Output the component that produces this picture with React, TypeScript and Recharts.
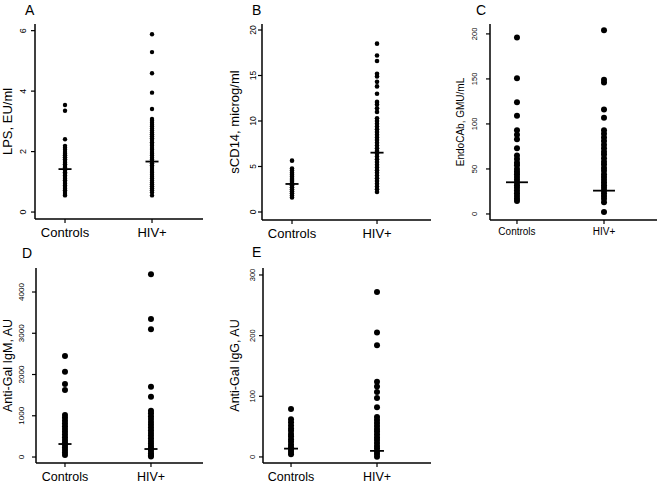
import React from 'react';
import { ScatterChart, Scatter, XAxis, YAxis, ReferenceLine } from 'recharts';

const groups = ['Controls', 'HIV+'];

// Panel A – LPS, EU/ml
const lpsControls = [3.54, 3.35, 2.41, 2.19, 2.13, 2.06, 1.99, 1.93, 1.88, 1.81, 1.75, 1.69, 1.63, 1.58, 1.52, 1.47, 1.42, 1.37, 1.32, 1.27, 1.21, 1.16, 1.10, 1.05, 0.99, 0.94, 0.88, 0.83, 0.77, 0.72, 0.66, 0.60, 0.55];
const lpsHiv = [5.88, 5.29, 4.59, 3.95, 3.41, 3.08, 3.02, 2.95, 2.89, 2.83, 2.76, 2.70, 2.63, 2.57, 2.51, 2.44, 2.38, 2.31, 2.25, 2.19, 2.12, 2.06, 1.99, 1.93, 1.87, 1.80, 1.74, 1.68, 1.61, 1.55, 1.49, 1.42, 1.36, 1.30, 1.23, 1.17, 1.11, 1.04, 0.98, 0.92, 0.85, 0.79, 0.72, 0.65, 0.55];
const lpsMedians = [1.42, 1.67];
const lpsTicks = [0, 2, 4, 6];

// Panel B – sCD14, microg/ml
const scdControls = [5.64, 4.78, 4.55, 4.31, 4.08, 3.86, 3.62, 3.40, 3.17, 2.95, 2.72, 2.50, 2.27, 2.05, 1.82, 1.60];
const scdHiv = [18.5, 17.2, 16.6, 15.2, 14.9, 14.3, 13.8, 13.0, 12.1, 11.8, 11.4, 11.0, 10.3, 10.0, 9.7, 9.4, 9.1, 8.8, 8.5, 8.2, 7.9, 7.6, 7.3, 7.0, 6.7, 6.4, 6.1, 5.8, 5.5, 5.2, 4.9, 4.6, 4.3, 4.0, 3.7, 3.4, 3.1, 2.8, 2.5, 2.2];
const scdMedians = [3.08, 6.52];
const scdTicks = [0, 5, 10, 15, 20];

// Panel C – EndoCAb, GMU/mL
const endoControls = [196, 150.7, 124, 109, 93, 88, 83, 73, 65, 61, 57, 54, 50, 47, 44, 41, 38, 35, 32, 29, 26, 23, 20, 17, 14.5];
const endoHiv = [204, 149, 146, 116, 107, 93, 89, 85, 81, 77, 73, 69, 66, 62, 58, 55, 51, 48, 44, 41, 38, 35, 32, 29, 26, 23, 20, 17, 13, 2.2];
const endoMedians = [35.2, 25.9];
const endoTicks = [0, 50, 100, 150, 200];

// Panel D – Anti-Gal IgM, AU
const igmControls = [2448, 2068, 1770, 1624, 1018, 950, 880, 810, 745, 680, 610, 545, 480, 415, 350, 290, 230, 170, 110, 48];
const igmHiv = [4428, 3345, 3095, 1705, 1463, 1123, 1060, 990, 920, 850, 785, 715, 650, 585, 520, 455, 390, 330, 270, 210, 150, 90, 40, 10];
const igmMedians = [315, 194];
const igmTicks = [0, 1000, 2000, 3000, 4000];

// Panel E – Anti-Gal IgG, AU
const iggControls = [79, 62, 57, 52, 47, 43, 38, 34, 29, 25, 20, 16, 12, 8, 4.4];
const iggHiv = [272, 205, 184, 124, 116, 107, 97, 82, 66, 61, 56, 51, 46, 42, 37, 32, 28, 23, 18, 14, 9, 5, 0.5];
const iggMedians = [13.7, 10];
const iggTicks = [0, 100, 200, 300];

const FONT = '"Liberation Sans", Arial, Helvetica, sans-serif';

type PanelCfg = {
  letter: string;
  ylabel: string;
  controls: number[];
  hiv: number[];
  medians: number[];
  ticks: number[];
  yDomain: [number, number];
  xDomain: [number, number];
  box: { x0: number; x1: number; y0: number; y1: number };
  r: number;
  medHalf: number;
  fs: number;
  tickFs: number;
  tickOff: number;
  labOff: number;
  xLabOff: number;
  letterPos: [number, number];
};

const panels: PanelCfg[] = [
  {
    letter: 'A', ylabel: 'LPS, EU/ml', controls: lpsControls, hiv: lpsHiv, medians: lpsMedians, ticks: lpsTicks,
    yDomain: [-0.23, 6.22], xDomain: [0.655, 2.586], box: { x0: 35, x1: 203, y0: 24, y1: 219 },
    r: 2.2, medHalf: 0.075, fs: 13, tickFs: 9, tickOff: 12, labOff: 27.5, xLabOff: 17.5, letterPos: [25, 15],
  },
  {
    letter: 'B', ylabel: 'sCD14, microg/ml', controls: scdControls, hiv: scdHiv, medians: scdMedians, ticks: scdTicks,
    yDomain: [-0.88, 20.66], xDomain: [0.647, 2.635], box: { x0: 262, x1: 431, y0: 24, y1: 220 },
    r: 2.3, medHalf: 0.077, fs: 13, tickFs: 8.5, tickOff: 9, labOff: 27, xLabOff: 17.5, letterPos: [252, 15],
  },
  {
    letter: 'C', ylabel: 'EndoCAb, GMU/mL', controls: endoControls, hiv: endoHiv, medians: endoMedians, ticks: endoTicks,
    yDomain: [-6.7, 211], xDomain: [0.69, 2.609], box: { x0: 490, x1: 657, y0: 24, y1: 220 },
    r: 3, medHalf: 0.126, fs: 10, tickFs: 7.5, tickOff: 16, labOff: 29, xLabOff: 15, letterPos: [476, 15],
  },
  {
    letter: 'D', ylabel: 'Anti-Gal IgM, AU', controls: igmControls, hiv: igmHiv, medians: igmMedians, ticks: igmTicks,
    yDomain: [-145, 4582], xDomain: [0.663, 2.605], box: { x0: 36, x1: 203, y0: 268, y1: 463 },
    r: 3, medHalf: 0.076, fs: 12.5, tickFs: 8, tickOff: 15, labOff: 28, xLabOff: 18, letterPos: [22, 258],
  },
  {
    letter: 'E', ylabel: 'Anti-Gal IgG, AU', controls: iggControls, hiv: iggHiv, medians: iggMedians, ticks: iggTicks,
    yDomain: [-10, 311.5], xDomain: [0.674, 2.628], box: { x0: 263, x1: 431, y0: 268, y1: 463 },
    r: 3, medHalf: 0.081, fs: 12.5, tickFs: 7.5, tickOff: 11, labOff: 28, xLabOff: 18, letterPos: [252, 257],
  },
];

const YW = 35;
const MT = 24;
const MR = 4;
const XH = 21;

function Panel({ p }: { p: PanelCfg }) {
  const { x0, x1, y0, y1 } = p.box;
  const W = x1 - x0 + YW + MR;
  const H = y1 - y0 + MT + XH;
  const left = x0 - YW;
  const top = y0 - MT;
  const d1 = p.controls.map((v) => ({ x: 1, y: v }));
  const d2 = p.hiv.map((v) => ({ x: 2, y: v }));
  const dot = (props: any) => <circle cx={props.cx} cy={props.cy} r={p.r} fill="#000" />;
  const plotH = y1 - y0;

  const YTick = (props: any) => {
    const cx = YW - p.tickOff;
    const bx = cx + 0.358 * p.tickFs;
    return (
      <text
        x={bx}
        y={props.y}
        transform={`rotate(-90, ${bx}, ${props.y})`}
        textAnchor="middle"
        fontSize={p.tickFs}
        fontFamily={FONT}
        fill="#000"
      >
        {props.payload.value}
      </text>
    );
  };

  const XTick = (props: any) => (
    <text
      x={props.x}
      y={MT + plotH + p.xLabOff}
      textAnchor="middle"
      fontSize={p.fs}
      fontFamily={FONT}
      fill="#000"
    >
      {groups[props.payload.value - 1]}
    </text>
  );

  const YLab = () => {
    const cx = YW - p.labOff;
    const bx = cx + 0.33 * p.fs;
    const cy = MT + plotH / 2;
    return (
      <text
        x={bx}
        y={cy}
        transform={`rotate(-90, ${bx}, ${cy})`}
        textAnchor="middle"
        fontSize={p.fs}
        fontFamily={FONT}
        fill="#000"
      >
        {p.ylabel}
      </text>
    );
  };

  return (
    <div style={{ position: 'absolute', left, top, width: W, height: H }}>
      <ScatterChart width={W} height={H} margin={{ top: MT, right: MR, bottom: 0, left: 0 }}>
        <XAxis
          type="number"
          dataKey="x"
          domain={p.xDomain}
          ticks={[1, 2]}
          allowDataOverflow
          height={XH}
          tickSize={4}
          tick={<XTick />}
          axisLine={{ stroke: '#000', strokeWidth: 1.5 }}
          tickLine={{ stroke: '#000', strokeWidth: 1.2 }}
        />
        <YAxis
          type="number"
          dataKey="y"
          domain={p.yDomain}
          ticks={p.ticks}
          allowDataOverflow
          width={YW}
          tickSize={4}
          tick={<YTick />}
          axisLine={{ stroke: '#000', strokeWidth: 1.5 }}
          tickLine={{ stroke: '#000', strokeWidth: 1.2 }}
          label={<YLab />}
        />
        <Scatter data={d1} shape={dot} isAnimationActive={false} />
        <Scatter data={d2} shape={dot} isAnimationActive={false} />
        {p.medians.map((m, i) => (
          <ReferenceLine
            key={i}
            segment={[{ x: i + 1 - p.medHalf, y: m }, { x: i + 1 + p.medHalf, y: m }]}
            stroke="#000"
            strokeWidth={1.8}
          />
        ))}
      </ScatterChart>
    </div>
  );
}

export default function App() {
  return (
    <div style={{ position: 'absolute', left: 0, top: 0, width: 661, height: 484, overflow: 'hidden', background: '#fff' }}>
      {panels.map((p) => (
        <Panel key={p.letter} p={p} />
      ))}
      <svg width={661} height={484} style={{ position: 'absolute', left: 0, top: 0, pointerEvents: 'none' }}>
        {panels.map((p) => (
          <text key={p.letter} x={p.letterPos[0]} y={p.letterPos[1]} fontSize={14} fontFamily={FONT} fill="#000">
            {p.letter}
          </text>
        ))}
      </svg>
    </div>
  );
}
